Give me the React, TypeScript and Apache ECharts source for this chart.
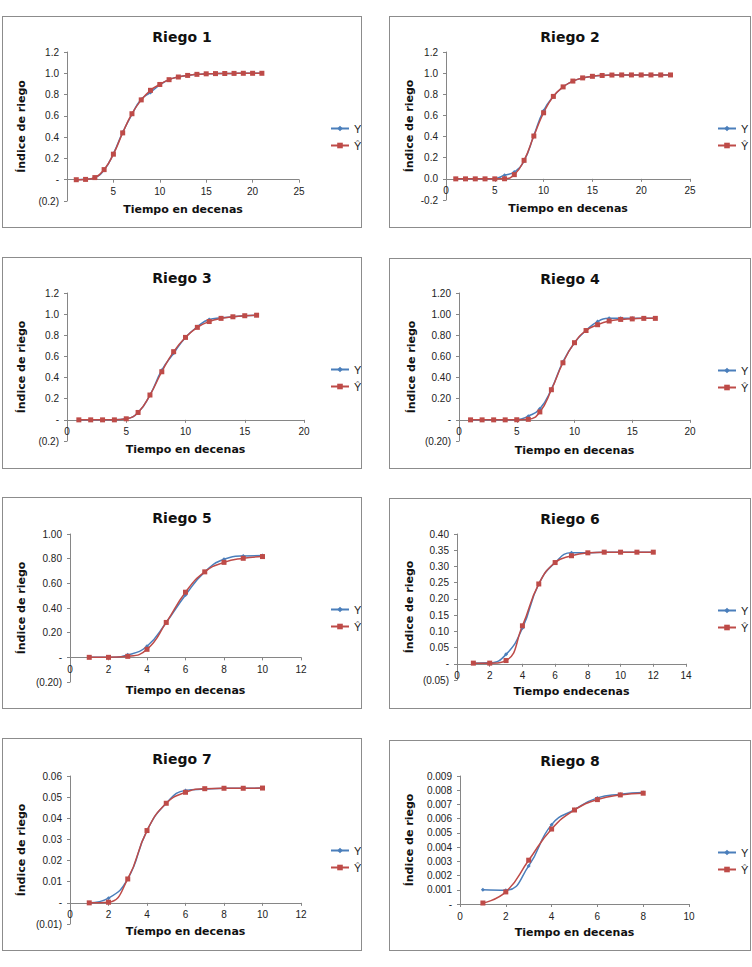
import * as echarts from 'echarts';
import React, { useEffect, useRef } from 'react';

// Tiempo (decenas) por riego
const tiempo1 = [1, 2, 3, 4, 5, 6, 7, 8, 9, 10, 11, 12, 13, 14, 15, 16, 17, 18, 19, 20, 21];
const tiempo2 = [1, 2, 3, 4, 5, 6, 7, 8, 9, 10, 11, 12, 13, 14, 15, 16, 17, 18, 19, 20, 21, 22, 23];
const tiempo3 = [1, 2, 3, 4, 5, 6, 7, 8, 9, 10, 11, 12, 13, 14, 15, 16];
const tiempo4 = [1, 2, 3, 4, 5, 6, 7, 8, 9, 10, 11, 12, 13, 14, 15, 16, 17];
const tiempo5 = [1, 2, 3, 4, 5, 6, 7, 8, 9, 10];
const tiempo6 = [1, 2, 3, 4, 5, 6, 7, 8, 9, 10, 11, 12];
const tiempo7 = [1, 2, 3, 4, 5, 6, 7, 8, 9, 10];
const tiempo8 = [1, 2, 3, 4, 5, 6, 7, 8];

// Y observado / Ŷ estimado
const obs1 = [0, 0.004, 0.02, 0.09, 0.245, 0.445, 0.615, 0.755, 0.82, 0.89, 0.94, 0.965, 0.98, 0.99, 0.995, 0.997, 0.998, 0.999, 1.0, 1.0, 1.0];
const est1 = [0, 0.003, 0.02, 0.095, 0.24, 0.44, 0.62, 0.75, 0.84, 0.895, 0.94, 0.965, 0.98, 0.99, 0.995, 0.997, 0.998, 0.999, 1.0, 1.0, 1.0];

const obs2 = [0, 0, 0, 0, 0.002, 0.035, 0.065, 0.17, 0.41, 0.645, 0.78, 0.87, 0.925, 0.955, 0.97, 0.978, 0.982, 0.983, 0.983, 0.983, 0.983, 0.983, 0.983];
const est2 = [0, 0, 0, 0, 0, 0.001, 0.04, 0.175, 0.405, 0.625, 0.78, 0.87, 0.925, 0.955, 0.97, 0.978, 0.982, 0.983, 0.983, 0.983, 0.983, 0.983, 0.983];

const obs3 = [0, 0, 0, 0, 0.01, 0.07, 0.235, 0.47, 0.63, 0.78, 0.88, 0.95, 0.965, 0.975, 0.985, 0.99];
const est3 = [0, 0, 0, 0, 0.01, 0.07, 0.235, 0.455, 0.645, 0.78, 0.875, 0.93, 0.96, 0.975, 0.985, 0.99];

const obs4 = [0, 0, 0, 0, 0.002, 0.035, 0.105, 0.29, 0.55, 0.73, 0.845, 0.93, 0.96, 0.962, 0.962, 0.962, 0.962];
const est4 = [0, 0, 0, 0, 0.001, 0.005, 0.075, 0.285, 0.54, 0.73, 0.845, 0.9, 0.935, 0.95, 0.955, 0.96, 0.96];

const obs5 = [0, 0, 0.02, 0.09, 0.283, 0.505, 0.693, 0.795, 0.822, 0.825];
const est5 = [0, 0, 0.008, 0.065, 0.283, 0.528, 0.693, 0.77, 0.803, 0.817];

const obs6 = [0.002, 0.003, 0.029, 0.11, 0.246, 0.312, 0.342, 0.342, 0.344, 0.344, 0.344, 0.344];
const est6 = [0.002, 0.002, 0.01, 0.117, 0.246, 0.312, 0.333, 0.342, 0.344, 0.344, 0.344, 0.344];

const obs7 = [0, 0.0022, 0.0113, 0.0342, 0.0471, 0.0532, 0.0538, 0.0542, 0.0542, 0.0543];
const est7 = [0, 0.0003, 0.0113, 0.0342, 0.0471, 0.0523, 0.054, 0.0542, 0.0542, 0.0543];

const obs8 = [0.001, 0.00097, 0.00268, 0.00558, 0.00664, 0.00746, 0.00772, 0.00784];
const est8 = [0.00007, 0.00085, 0.00308, 0.00527, 0.00661, 0.00734, 0.00767, 0.00779];

const legendNames = ['Y', 'Ŷ'];

const BLUE = '#4A7EBB';
const RED = '#BE4B48';
const AXIS = '#868686';
const TICK_FONT = "'Liberation Sans', Arial, sans-serif";
const BOLD_FONT = "'DejaVu Sans', 'Liberation Sans', sans-serif";

type Fmt = 'acct' | 'plain';

interface PanelProps {
  title: string;
  xName: string;
  tiempo: number[];
  obs: number[];
  est: number[];
  box: [number, number, number, number];
  grid: [number, number, number, number];
  xMax: number;
  xStep: number;
  yMin: number;
  yMax: number;
  yStep: number;
  decimals: number;
  fmt: Fmt;
  showX0: boolean;
  xGap: number;
  yGap: number;
}

const makeFormatter = (d: number, fmt: Fmt) => (v: number) => {
  if (fmt === 'plain') {
    if (Math.abs(v) < 1e-12) return (0).toFixed(d);
    return v.toFixed(d);
  }
  if (Math.abs(v) < 1e-12) return '-';
  return v < 0 ? `(${Math.abs(v).toFixed(d)})` : v.toFixed(d);
};

const Panel: React.FC<PanelProps> = (p) => {
  const chartRef = useRef<HTMLDivElement>(null);

  useEffect(() => {
    if (!chartRef.current) return;
    const chart = echarts.init(chartRef.current, undefined, { renderer: 'svg' });

    const pairs = (ys: number[]) => p.tiempo.map((t, i) => [t, ys[i]]);
    // the x axis (line, labels and name) sits on y = 0, like Excel
    const zeroOffset = -p.grid[3] * (-p.yMin) / (p.yMax - p.yMin);

    chart.setOption({
      animation: false,
      textStyle: { fontFamily: TICK_FONT },
      title: {
        text: p.title,
        left: 'center',
        top: 8,
        textStyle: { fontFamily: BOLD_FONT, fontSize: 14, fontWeight: 'bold', color: '#111' },
      },
      legend: {
        orient: 'vertical',
        left: 322,
        top: 101,
        itemWidth: 18,
        itemHeight: 7,
        itemGap: 6,
        data: legendNames,
        textStyle: { fontFamily: TICK_FONT, fontSize: 11, color: '#222' },
      },
      grid: {
        left: p.grid[0],
        top: p.grid[1],
        width: p.grid[2],
        height: p.grid[3],
        containLabel: false,
        outerBoundsMode: 'none',
      },
      xAxis: {
        type: 'value',
        min: 0,
        max: p.xMax,
        interval: p.xStep,
        offset: zeroOffset,
        name: p.xName,
        nameLocation: 'middle',
        nameGap: p.xGap,
        nameMoveOverlap: false,
        nameTextStyle: { fontFamily: BOLD_FONT, fontSize: 11, fontWeight: 'bold', color: '#111' },
        axisLine: { onZero: false, lineStyle: { color: AXIS, width: 1 } },
        axisTick: { show: true, length: 3, lineStyle: { color: AXIS } },
        axisLabel: { fontSize: 10, color: '#222', margin: 7, showMinLabel: p.showX0 },
        splitLine: { show: false },
      },
      yAxis: {
        type: 'value',
        min: p.yMin,
        max: p.yMax,
        interval: p.yStep,
        name: 'Índice de riego',
        nameLocation: 'middle',
        nameGap: p.yGap,
        nameMoveOverlap: false,
        nameTextStyle: { fontFamily: BOLD_FONT, fontSize: 11, fontWeight: 'bold', color: '#111' },
        axisLine: { show: true, onZero: false, lineStyle: { color: AXIS, width: 1 } },
        axisTick: { show: true, length: 3, lineStyle: { color: AXIS } },
        axisLabel: { fontSize: 10, color: '#222', margin: 8, formatter: makeFormatter(p.decimals, p.fmt) },
        splitLine: { show: false },
      },
      series: [
        {
          name: legendNames[0],
          type: 'line',
          data: pairs(p.obs),
          smooth: true,
          symbol: 'diamond',
          symbolSize: 4,
          lineStyle: { width: 1.5, color: BLUE },
          itemStyle: { color: BLUE },
        },
        {
          name: legendNames[1],
          type: 'line',
          data: pairs(p.est),
          smooth: true,
          symbol: 'rect',
          symbolSize: 5,
          lineStyle: { width: 1.5, color: RED },
          itemStyle: { color: RED },
        },
      ],
    });

    return () => {
      chart.dispose();
    };
  }, []);

  return (
    <div
      ref={chartRef}
      style={{
        position: 'absolute',
        left: p.box[0],
        top: p.box[1],
        width: p.box[2],
        height: p.box[3],
        border: '1px solid #8c8c8c',
        boxSizing: 'border-box',
        background: '#fff',
      }}
    />
  );
};

const X_NAME = 'Tiempo en decenas';

const App: React.FC = () => {
  return (
    <div style={{ position: 'fixed', left: 0, top: 0, width: 752, height: 967, background: '#fff' }}>
      <Panel title="Riego 1" xName={X_NAME} tiempo={tiempo1} obs={obs1} est={est1}
        box={[2, 16, 360, 212]} grid={[64, 35, 232, 149]}
        xMax={25} xStep={5} yMin={-0.2} yMax={1.2} yStep={0.2} decimals={1} fmt="acct"
        showX0={false} xGap={24} yGap={40} />
      <Panel title="Riego 2" xName={X_NAME} tiempo={tiempo2} obs={obs2} est={est2}
        box={[389, 16, 362, 212]} grid={[56, 35, 244, 148]}
        xMax={25} xStep={5} yMin={-0.2} yMax={1.2} yStep={0.2} decimals={1} fmt="plain"
        showX0={true} xGap={24} yGap={31} />
      <Panel title="Riego 3" xName={X_NAME} tiempo={tiempo3} obs={obs3} est={est3}
        box={[2, 257, 360, 212]} grid={[64, 35, 237, 148]}
        xMax={20} xStep={5} yMin={-0.2} yMax={1.2} yStep={0.2} decimals={1} fmt="acct"
        showX0={true} xGap={24} yGap={40} />
      <Panel title="Riego 4" xName={X_NAME} tiempo={tiempo4} obs={obs4} est={est4}
        box={[389, 258, 362, 211]} grid={[69, 34, 231, 148]}
        xMax={20} xStep={5} yMin={-0.2} yMax={1.2} yStep={0.2} decimals={2} fmt="acct"
        showX0={true} xGap={25} yGap={42} />
      <Panel title="Riego 5" xName={X_NAME} tiempo={tiempo5} obs={obs5} est={est5}
        box={[2, 497, 360, 212]} grid={[67, 36, 231, 148]}
        xMax={12} xStep={2} yMin={-0.2} yMax={1.0} yStep={0.2} decimals={2} fmt="acct"
        showX0={true} xGap={28} yGap={43} />
      <Panel title="Riego 6" xName="Tiempo endecenas" tiempo={tiempo6} obs={obs6} est={est6}
        box={[389, 498, 362, 211]} grid={[67, 35, 229, 146]}
        xMax={14} xStep={2} yMin={-0.05} yMax={0.4} yStep={0.05} decimals={2} fmt="acct"
        showX0={true} xGap={22} yGap={42} />
      <Panel title="Riego 7" xName="Tíempo en decenas" tiempo={tiempo7} obs={obs7} est={est7}
        box={[2, 738, 360, 213]} grid={[67, 37, 231, 148]}
        xMax={12} xStep={2} yMin={-0.01} yMax={0.06} yStep={0.01} decimals={2} fmt="acct"
        showX0={true} xGap={23} yGap={43} />
      <Panel title="Riego 8" xName={X_NAME} tiempo={tiempo8} obs={obs8} est={est8}
        box={[389, 740, 362, 211]} grid={[70, 35, 229, 128]}
        xMax={10} xStep={2} yMin={0} yMax={0.009} yStep={0.001} decimals={3} fmt="acct"
        showX0={true} xGap={23} yGap={45} />
    </div>
  );
};

export default App;
